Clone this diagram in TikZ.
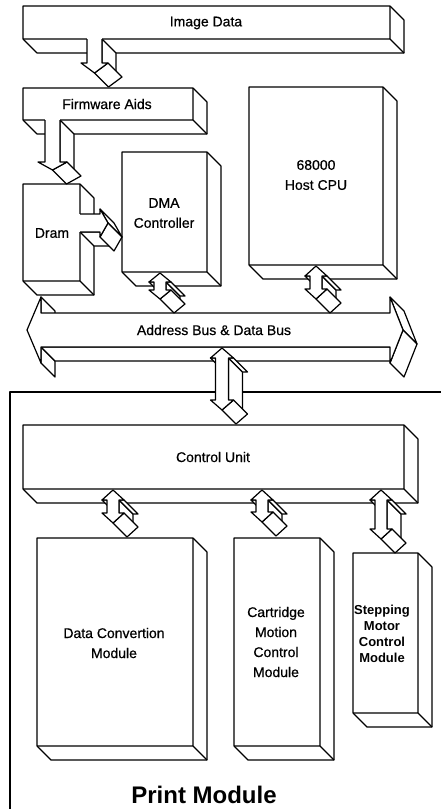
\documentclass[tikz,border=0pt]{standalone}
\usepackage{fontspec}
\setmainfont{Liberation Sans}
\newfontfamily\scanfont{Liberation Sans}[FakeBold=0.6]
\def\tdD{14}
% 3D box: front face (x1,y1)-(x2,y2), depth to lower right
\newcommand{\tdbox}[4]{%
  \path[face] (#1,#2) -- (#3,#2) -- (#3+\tdD,#2+\tdD) -- (#3+\tdD,#4+\tdD) -- (#1+\tdD,#4+\tdD) -- (#1,#4) -- cycle;
  \path[edge] (#1,#4) -- (#3,#4) -- (#3,#2) (#3,#4) -- (#3+\tdD,#4+\tdD);
}
% down arrow attached at top: cx, y0, front tip y, shaft width, wing, head length
\newcommand{\tdarrowdown}[6]{%
  \pgfmathsetmacro\xa{#1-#4/2}\pgfmathsetmacro\xb{#1+#4/2}\pgfmathsetmacro\yb{#3-#6}%
  \path[face] (\xb,#2) -- (\xb,\yb) -- (\xb+\tdD,\yb+\tdD) -- (\xb+\tdD,#2+\tdD) -- cycle;
  \path[face] (\xb+#5,\yb) -- (#1,#3) -- (#1+\tdD,#3+\tdD) -- (\xb+#5+\tdD,\yb+\tdD) -- cycle;
  \fill[white] (\xa,#2-1.5) -- (\xa,\yb) -- (\xa-#5,\yb) -- (#1,#3) -- (\xb+#5,\yb) -- (\xb,\yb) -- (\xb,#2-1.5) -- cycle;
  \path[edge] (\xa,#2) -- (\xa,\yb) -- (\xa-#5,\yb) -- (#1,#3) -- (\xb+#5,\yb) -- (\xb,\yb) -- (\xb,#2);
}
% double vertical arrow: cx, top tip y, bottom front tip y, shaft width, wing, head length
\newcommand{\tdarrowud}[6]{%
  \pgfmathsetmacro\xa{#1-#4/2}\pgfmathsetmacro\xb{#1+#4/2}%
  \pgfmathsetmacro\ya{#2+#6}\pgfmathsetmacro\yb{#3-#6}%
  \path[face] (\xa-#5,\ya) -- (\xa,\ya) -- (\xa+\tdD,\ya+\tdD) -- (\xa-#5+\tdD,\ya+\tdD) -- cycle;
  \path[face] (\xb,\ya) -- (\xb,\yb) -- (\xb+\tdD,\yb+\tdD) -- (\xb+\tdD,\ya+\tdD) -- cycle;
  \path[face] (\xb,\ya) -- (\xb+#5,\ya) -- (\xb+#5+\tdD,\ya+\tdD) -- (\xb+\tdD,\ya+\tdD) -- cycle;
  \path[face] (\xb+#5,\yb) -- (#1,#3) -- (#1+\tdD,#3+\tdD) -- (\xb+#5+\tdD,\yb+\tdD) -- cycle;
  \path[face] (#1,#2) -- (\xb+#5,\ya) -- (\xb,\ya) -- (\xb,\yb) -- (\xb+#5,\yb) -- (#1,#3) -- (\xa-#5,\yb) -- (\xa,\yb) -- (\xa,\ya) -- (\xa-#5,\ya) -- cycle;
}
% right arrow attached at left: cy, x0, front tip x, shaft width, wing, head length
\newcommand{\tdarrowright}[6]{%
  \pgfmathsetmacro\ya{#1-#4/2}\pgfmathsetmacro\yb{#1+#4/2}\pgfmathsetmacro\xb{#3-#6}%
  \path[face] (#2,\yb) -- (\xb,\yb) -- (\xb+\tdD,\yb+\tdD) -- (#2+\tdD,\yb+\tdD) -- cycle;
  \path[face] (\xb,\ya-#5) -- (#3,#1) -- (#3+\tdD,#1+\tdD) -- (\xb+\tdD,\ya-#5+\tdD) -- cycle;
  \path[face] (#3,#1) -- (\xb,\yb+#5) -- (\xb+\tdD,\yb+#5+\tdD) -- (#3+\tdD,#1+\tdD) -- cycle;
  \fill[white] (#2-1.5,\ya) -- (\xb,\ya) -- (\xb,\ya-#5) -- (#3,#1) -- (\xb,\yb+#5) -- (\xb,\yb) -- (#2-1.5,\yb) -- cycle;
  \path[edge] (#2,\ya) -- (\xb,\ya) -- (\xb,\ya-#5) -- (#3,#1) -- (\xb,\yb+#5) -- (\xb,\yb) -- (#2,\yb);
}
\begin{document}
\begin{tikzpicture}[x=1pt,y=-1pt,
  face/.style={fill=white,draw=black,line width=1.2pt,line join=round},
  edge/.style={draw=black,line width=1.2pt,line join=round},
  lbl/.style={font=\scanfont\fontsize{14}{20}\selectfont,align=center,inner sep=0pt}]
\useasboundingbox (0,0) rectangle (440,809);
\fill[white] (0,0) rectangle (440,809);
% Print module frame
\path[edge] (441,392) -- (10,392) -- (10,810);
% boxes
\tdbox{23}{6}{390}{39}
\tdbox{23}{88}{193}{120}
\tdbox{249}{87}{383}{265}
\tdbox{122}{152}{207}{272}
\tdbox{23}{184}{80}{281}
\tdbox{23}{425}{404}{489}
\tdbox{37}{538}{193}{746}
\tdbox{234}{538}{320}{746}
\tdbox{353}{553}{418}{713}
% attached arrows
\tdarrowdown{94.5}{39}{73}{15}{6}{10}
\tdarrowdown{52.5}{120}{170}{15}{7}{8}
\tdarrowright{223}{80}{108}{18}{5}{8}
% bus
\path[face] (41,297) -- (41,313) -- (55,327) -- (55,311) -- cycle;
\path[face] (41,347) -- (41,363) -- (55,377) -- (55,361) -- cycle;
\path[face] (41,347) -- (390,347) -- (404,361) -- (55,361) -- cycle;
\path[face] (390,297) -- (403,330) -- (417,344) -- (404,311) -- cycle;
\path[face] (403,330) -- (390,363) -- (404,377) -- (417,344) -- cycle;
\path[face] (27,330) -- (41,297) -- (41,313) -- (390,313) -- (390,297) -- (403,330) -- (390,363) -- (390,347) -- (41,347) -- (41,363) -- cycle;
% double arrows
\tdarrowud{160}{273}{299}{12}{5}{9}
\tdarrowud{316}{266}{299}{12}{5}{10}
\tdarrowud{222}{348}{410}{13}{5}{10}
\tdarrowud{113}{490}{523}{12}{5}{10}
\tdarrowud{262}{490}{522}{12}{5}{10}
\tdarrowud{381}{490}{539}{12}{5}{10}
% labels
\node[lbl] (tImage) at (206,23) {Image Data};
\node[lbl] (tFirm) at (107,104) {Firmware Aids};
\node[lbl] (tCPU) at (316,175) {68000\\Host CPU};
\node[lbl] (tDMA) at (164,213) {DMA\\Controller};
\node[lbl] (tDram) at (52,233) {Dram};
\node[lbl] (tBus) at (214,330) {Address Bus \& Data Bus};
\node[lbl] (tCtrl) at (213,457) {Control Unit};
\node[lbl] (tData) at (114,643) {Data Convertion\\Module};
\node[lbl] (tCart) at (276,642) {Cartridge\\Motion\\Control\\Module};
\node[lbl,font=\bfseries\fontsize{13}{16}\selectfont] (tStep) at (382,634) {Stepping\\Motor\\Control\\Module};
\node[inner sep=0pt,font=\bfseries\fontsize{24}{28}\selectfont] (tPrint) at (204,795) {Print Module};
\end{tikzpicture}
\end{document}
